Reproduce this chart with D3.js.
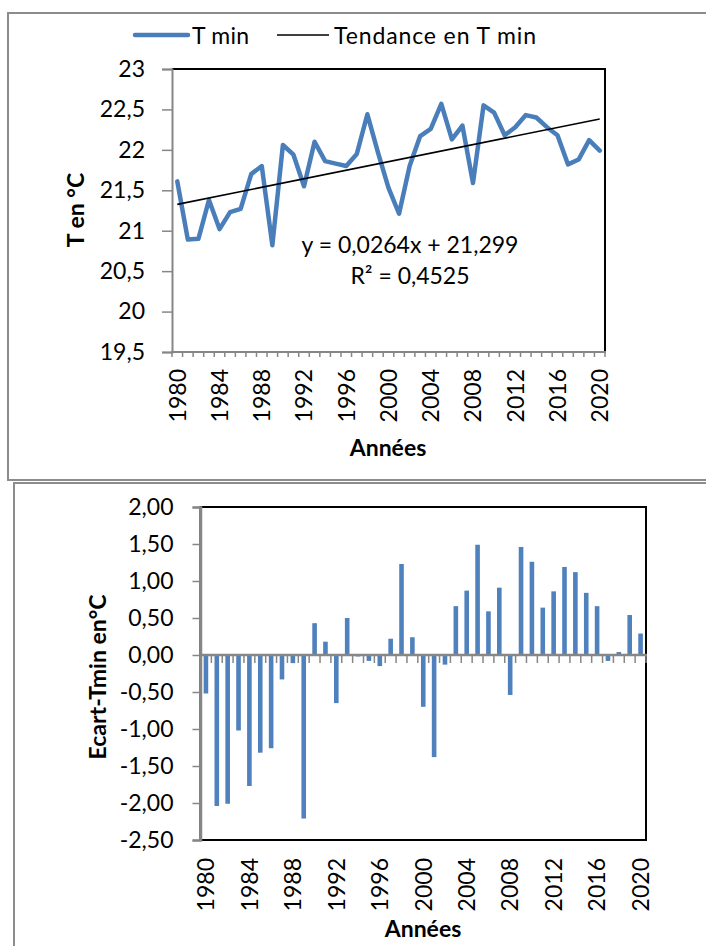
<!DOCTYPE html>
<html lang="fr">
<head>
<meta charset="utf-8">
<title>T min 1980-2020</title>
<script src="https://cdn.jsdelivr.net/npm/d3@7"></script>
<style>
  html, body { margin: 0; padding: 0; background: #ffffff; }
  svg { display: block; font-family: Lato, "Open Sans", sans-serif; }
</style>
</head>
<body>
<svg id="chart" width="706" height="946"></svg>
<script>
// Years of the series
const years = [1980, 1981, 1982, 1983, 1984, 1985, 1986, 1987, 1988, 1989,
               1990, 1991, 1992, 1993, 1994, 1995, 1996, 1997, 1998, 1999,
               2000, 2001, 2002, 2003, 2004, 2005, 2006, 2007, 2008, 2009,
               2010, 2011, 2012, 2013, 2014, 2015, 2016, 2017, 2018, 2019, 2020];

// Annual minimum temperature (°C)
const tmin = [21.61, 20.89, 20.90, 21.38, 21.02, 21.23, 21.27, 21.70, 21.80, 20.82,
              22.06, 21.94, 21.55, 22.10, 21.86, 21.83, 21.80, 21.95, 22.44, 21.97,
              21.53, 21.21, 21.80, 22.17, 22.26, 22.57, 22.13, 22.30, 21.59, 22.55,
              22.46, 22.18, 22.28, 22.43, 22.40, 22.28, 22.18, 21.82, 21.88, 22.12, 21.99];

// Standardised departure of T min from the period mean
const ecart = [-0.52, -2.04, -2.01, -1.02, -1.77, -1.32, -1.26, -0.33, -0.11, -2.21,
                0.43,  0.18, -0.65,  0.50, -0.02, -0.08, -0.15,  0.22,  1.23,  0.24,
               -0.70, -1.38, -0.13,  0.66,  0.87,  1.49,  0.59,  0.91, -0.54,  1.46,
                1.26,  0.64,  0.86,  1.19,  1.12,  0.84,  0.66, -0.08,  0.04,  0.54,  0.29];

// Linear trend fitted on T min (x = 1 for the first year)
const trendSlope = 0.0264;
const trendIntercept = 21.299;
const trendR2 = 0.4525;

// Axis tick values
const tminTicks = [19.5, 20, 20.5, 21, 21.5, 22, 22.5, 23];
const ecartTicks = [-2.5, -2, -1.5, -1, -0.5, 0, 0.5, 1, 1.5, 2];
const yearLabels = [1980, 1984, 1988, 1992, 1996, 2000, 2004, 2008, 2012, 2016, 2020];

// Legend entries
const legendLabels = ["T min", "Tendance en T min"];

const BLUE_LINE = "#4A7EBB";
const BLUE_BAR = "#4F81BD";
const AXIS_GREY = "#868686";
const FRAME_GREY = "#8C8C8C";
const FONT = 23;

const frFmt = (dec) => (v) => v.toFixed(dec).replace(".", ",");
const frTrim = (v) => String(v).replace(".", ",");

const svg = d3.select("#chart");

// ---------- outer frames ----------
svg.append("rect").attr("x", 8).attr("y", 13).attr("width", 720).attr("height", 467)
  .attr("fill", "#fff").attr("stroke", FRAME_GREY).attr("stroke-width", 2);
svg.append("rect").attr("x", 14).attr("y", 483).attr("width", 720).attr("height", 500)
  .attr("fill", "#fff").attr("stroke", FRAME_GREY).attr("stroke-width", 2);

// =================== Top chart: T min line + trend ===================
const x1 = d3.scaleBand().domain(years).range([172, 605]);
const y1 = d3.scaleLinear().domain([19.5, 23]).range([352, 69]);
const cx1 = (yr) => x1(yr) + x1.bandwidth() / 2;

const gTop = svg.append("g");

// plot-area border (top and right)
gTop.append("path")
  .attr("d", `M${x1.range()[0]},${y1(23)}H${x1.range()[1]}V${y1(19.5)}`)
  .attr("fill", "none").attr("stroke", "#000").attr("stroke-width", 2);

// Y axis
const yAxis1 = gTop.append("g")
  .attr("transform", `translate(${x1.range()[0]},0)`)
  .call(d3.axisLeft(y1).tickValues(tminTicks).tickFormat(frTrim).tickSize(10).tickPadding(17));
yAxis1.select(".domain").attr("stroke", AXIS_GREY).attr("stroke-width", 2);
yAxis1.selectAll(".tick line").attr("stroke", AXIS_GREY).attr("stroke-width", 1.5);
yAxis1.selectAll(".tick text").attr("font-size", FONT).attr("fill", "#000");

// X axis: tick marks at category boundaries
const xb1 = years.map(y => x1(y)).concat([x1.range()[1]]);
gTop.append("g").selectAll("line").data(xb1).join("line")
  .attr("x1", d => d).attr("x2", d => d)
  .attr("y1", y1(19.5)).attr("y2", y1(19.5) + 5)
  .attr("stroke", AXIS_GREY).attr("stroke-width", 1.5);
gTop.append("line")
  .attr("x1", x1.range()[0] - 1).attr("x2", x1.range()[1] + 1)
  .attr("y1", y1(19.5)).attr("y2", y1(19.5))
  .attr("stroke", AXIS_GREY).attr("stroke-width", 2);

// X axis labels (rotated)
const xAxis1 = gTop.append("g")
  .attr("transform", `translate(0,${y1(19.5)})`)
  .call(d3.axisBottom(x1).tickValues(yearLabels).tickSize(0));
xAxis1.select(".domain").remove();
xAxis1.selectAll(".tick text")
  .attr("transform", "rotate(-90)")
  .attr("x", -17).attr("y", 0).attr("dy", "0.36em")
  .attr("text-anchor", "end")
  .attr("font-size", FONT).attr("fill", "#000");

// T min line
const line = d3.line().x((d, i) => cx1(years[i])).y(d => y1(d));
gTop.append("path").datum(tmin)
  .attr("d", line)
  .attr("fill", "none").attr("stroke", BLUE_LINE).attr("stroke-width", 4.5)
  .attr("stroke-linejoin", "round").attr("stroke-linecap", "round");

// Trend line
const trendAt = (i) => trendSlope * (i + 1) + trendIntercept;
const iLast = years.length - 1;
gTop.append("line")
  .attr("x1", cx1(years[0])).attr("y1", y1(trendAt(0)))
  .attr("x2", cx1(years[iLast])).attr("y2", y1(trendAt(iLast)))
  .attr("stroke", "#000").attr("stroke-width", 1.6);

// Equation text
const eqX = 410;
gTop.append("text").attr("x", eqX).attr("y", 253).attr("text-anchor", "middle")
  .attr("font-size", FONT)
  .text(`y = ${frTrim(trendSlope)}x + ${frTrim(trendIntercept)}`);
gTop.append("text").attr("x", eqX).attr("y", 284).attr("text-anchor", "middle")
  .attr("font-size", FONT)
  .text(`R² = ${frTrim(trendR2)}`);

// Axis titles
gTop.append("text")
  .attr("transform", `translate(84,210) rotate(-90)`)
  .attr("text-anchor", "middle").attr("font-size", FONT).attr("font-weight", "bold")
  .text("T en °C");
gTop.append("text").attr("x", 388).attr("y", 456).attr("text-anchor", "middle")
  .attr("font-size", FONT).attr("font-weight", "bold").text("Années");

// Legend
const leg = gTop.append("g");
leg.append("line").attr("x1", 135).attr("x2", 188).attr("y1", 35).attr("y2", 35)
  .attr("stroke", BLUE_LINE).attr("stroke-width", 4.5).attr("stroke-linecap", "round");
leg.append("text").attr("x", 192).attr("y", 44).attr("font-size", FONT)
  .attr("textLength", 57).text(legendLabels[0]);
leg.append("line").attr("x1", 277).attr("x2", 329).attr("y1", 35).attr("y2", 35)
  .attr("stroke", "#000").attr("stroke-width", 1.6);
leg.append("text").attr("x", 334).attr("y", 44).attr("font-size", FONT)
  .attr("textLength", 202).text(legendLabels[1]);

// =================== Bottom chart: standardised departures ===================
const x2 = d3.scaleBand().domain(years).range([200.5, 646]);
const y2 = d3.scaleLinear().domain([-2.5, 2]).range([840, 507]);
const gBot = svg.append("g");

// plot-area border
gBot.append("rect")
  .attr("x", x2.range()[0]).attr("y", y2(2))
  .attr("width", x2.range()[1] - x2.range()[0]).attr("height", y2(-2.5) - y2(2))
  .attr("fill", "none").attr("stroke", "#000").attr("stroke-width", 2);

// Bars
const barW = 4.6;
gBot.append("g").selectAll("rect").data(ecart).join("rect")
  .attr("x", (d, i) => x2(years[i]) + x2.bandwidth() / 2 - barW / 2)
  .attr("width", barW)
  .attr("y", d => y2(Math.max(0, d)))
  .attr("height", d => Math.abs(y2(d) - y2(0)))
  .attr("fill", BLUE_BAR);

// Y axis
const yAxis2 = gBot.append("g")
  .attr("transform", `translate(${x2.range()[0]},0)`)
  .call(d3.axisLeft(y2).tickValues(ecartTicks).tickFormat(frFmt(2)).tickSize(8).tickPadding(19));
yAxis2.select(".domain").attr("stroke", AXIS_GREY).attr("stroke-width", 2.5);
yAxis2.selectAll(".tick line").attr("stroke", AXIS_GREY).attr("stroke-width", 1.5);
yAxis2.selectAll(".tick text").attr("font-size", FONT).attr("fill", "#000");

// Category axis crossing at zero, with ticks between categories
const xb2 = years.map(y => x2(y)).concat([x2.range()[1]]);
gBot.append("g").selectAll("line").data(xb2).join("line")
  .attr("x1", d => d).attr("x2", d => d)
  .attr("y1", y2(0)).attr("y2", y2(0) + 8)
  .attr("stroke", AXIS_GREY).attr("stroke-width", 1.5);
gBot.append("line")
  .attr("x1", x2.range()[0]).attr("x2", x2.range()[1] + 1)
  .attr("y1", y2(0)).attr("y2", y2(0))
  .attr("stroke", AXIS_GREY).attr("stroke-width", 2.5);

// Category labels at the bottom of the plot
const xAxis2 = gBot.append("g")
  .attr("transform", `translate(0,${y2(-2.5)})`)
  .call(d3.axisBottom(x2).tickValues(yearLabels).tickSize(0));
xAxis2.select(".domain").remove();
xAxis2.selectAll(".tick text")
  .attr("transform", "rotate(-90)")
  .attr("x", -18).attr("y", 0).attr("dy", "0.36em")
  .attr("text-anchor", "end")
  .attr("font-size", FONT).attr("fill", "#000");

// Axis titles
gBot.append("text")
  .attr("transform", `translate(106,677) rotate(-90)`)
  .attr("text-anchor", "middle").attr("font-size", FONT).attr("font-weight", "bold")
  .text("Ecart-Tmin en°C");
gBot.append("text").attr("x", 423).attr("y", 937).attr("text-anchor", "middle")
  .attr("font-size", FONT).attr("font-weight", "bold").text("Années");

// d3 axes set their own font-family; let the page font apply
svg.selectAll(".tick text").attr("font-family", null);
svg.selectAll("g[font-family]").attr("font-family", null).attr("font-size", null);
</script>
</body>
</html>
